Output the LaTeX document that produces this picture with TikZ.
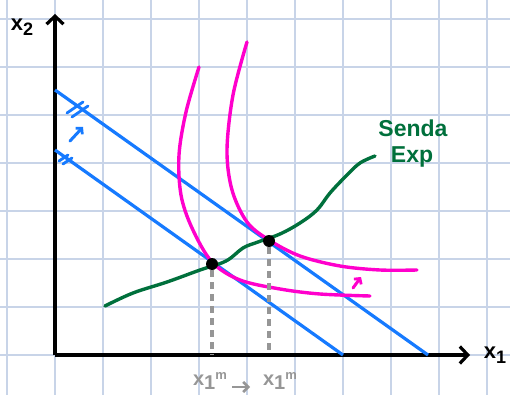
\documentclass[tikz,border=0pt]{standalone}
\usepackage{fontspec}
\setmainfont{Liberation Sans}
\usetikzlibrary{arrows.meta}
\definecolor{gridc}{RGB}{200,212,232}
\definecolor{bl}{RGB}{22,122,255}
\definecolor{pk}{RGB}{255,0,204}
\definecolor{gr}{RGB}{0,112,60}
\definecolor{gy}{RGB}{150,150,150}
\tikzset{
  gridline/.style={gridc,line width=1.5},
  axisline/.style={black,line width=3.2,-{Straight Barb[length=8,width=17,line width=3.2]}},
  budget/.style={bl,line width=3.2},
  indiff/.style={pk,line width=3.4,line cap=round},
  expath/.style={gr,line width=3.4,line cap=round},
  tickmark/.style={bl,line width=2.8,line cap=round},
  optdot/.style={circle,fill=black,inner sep=0pt,minimum size=12},
  guide/.style={gy,line width=3.6,dash pattern=on 7 off 5},
  lbl/.style={inner sep=0pt,font=\bfseries\fontsize{22}{24}\selectfont},
  glbl/.style={inner sep=0pt,text=gy,font=\bfseries\fontsize{20}{22}\selectfont},
  movearrow/.style={line width=3,line cap=round,-{Straight Barb[length=4,width=9,line width=2.8]}}
}
\begin{document}
\begin{tikzpicture}[x=1pt,y=-1pt]
\useasboundingbox (0,0) rectangle (510,395);
\fill[white] (0,0) rectangle (510,395);
% grid
\foreach \x in {7,55,...,487} \draw[gridline] (\x,0) -- (\x,395);
\foreach \y in {19,67,...,355} \draw[gridline] (0,\y) -- (510,\y);
% axes
\coordinate (O) at (55,355);
\coordinate (XE) at (470,355);
\coordinate (YE) at (55,14);
\draw[axisline] (O) -- (XE);
\draw[axisline] (O) -- (YE);
\node[lbl] (lx2) at (22,27) {x\raisebox{-0.2em}{\fontsize{18}{20}\selectfont 2}};
\node[lbl] (lx1) at (495,355) {x\raisebox{-0.2em}{\fontsize{18}{20}\selectfont 1}};
% budget lines
\coordinate (B1a) at (55,90);
\coordinate (B1b) at (428,355);
\coordinate (B0a) at (55,150);
\coordinate (B0b) at (343,355);
\draw[budget] (B1a) -- (B1b);
\draw[budget] (B0a) -- (B0b);
% ticks
\draw[tickmark] (67,113) -- (83,102);
\draw[tickmark] (72,117) -- (88,106);
\draw[tickmark] (59,161) -- (68,155);
\draw[tickmark] (63,164) -- (72,158);
% blue shift arrow
\coordinate (ba1) at (70,141);
\coordinate (ba2) at (83,127);
\draw[movearrow,bl] (ba1) -- (ba2);
% indifference curves
\draw[indiff] plot[smooth,tension=0.55] coordinates {(199,67) (186,112) (179,155) (181,195) (192,228) (212,262) (240,280) (280,289) (320,294) (370,296)};
\draw[indiff] plot[smooth,tension=0.55] coordinates {(247,42) (233,95) (227,150) (232,190) (247,222) (269,240) (300,256) (340,266) (380,270) (417,270)};
% expansion path
\draw[expath] plot[smooth,tension=0.6] coordinates {(105,306) (133,293) (167,282) (200,270) (226,261) (243,248) (258,242) (280,234) (300,223) (317,210) (330,193) (347,175) (360,163) (375,156)};
\node[lbl,text=gr,font=\bfseries\fontsize{23}{25}\selectfont] (senda) at (413,128) {Senda};
\node[lbl,text=gr,font=\bfseries\fontsize{23}{25}\selectfont] (exp) at (412,157) {Exp};
% optima
\node[optdot] (d1) at (212,264) {};
\node[optdot] (d2) at (269,241) {};
\draw[guide] (d1) -- (d1 |- O);
\draw[guide] (d2) -- (d2 |- O);
% pink arrow
\coordinate (pa1) at (353,288);
\coordinate (pa2) at (361,277);
\draw[movearrow,pk] (pa1) -- (pa2);
% bottom labels
\node[glbl] (m0) at (210,381) {x\raisebox{-0.2em}{1}\raisebox{0.3em}{\fontsize{13}{14}\selectfont m}};
\node[glbl] (m1) at (280,381) {x\raisebox{-0.2em}{1}\raisebox{0.3em}{\fontsize{13}{14}\selectfont m}};
\coordinate (ga1) at (232,387);
\coordinate (ga2) at (250,387);
\draw[gy,line width=2.8,-{Straight Barb[length=5,width=10,line width=2.6]}] (ga1) -- (ga2);
\end{tikzpicture}
\end{document}
